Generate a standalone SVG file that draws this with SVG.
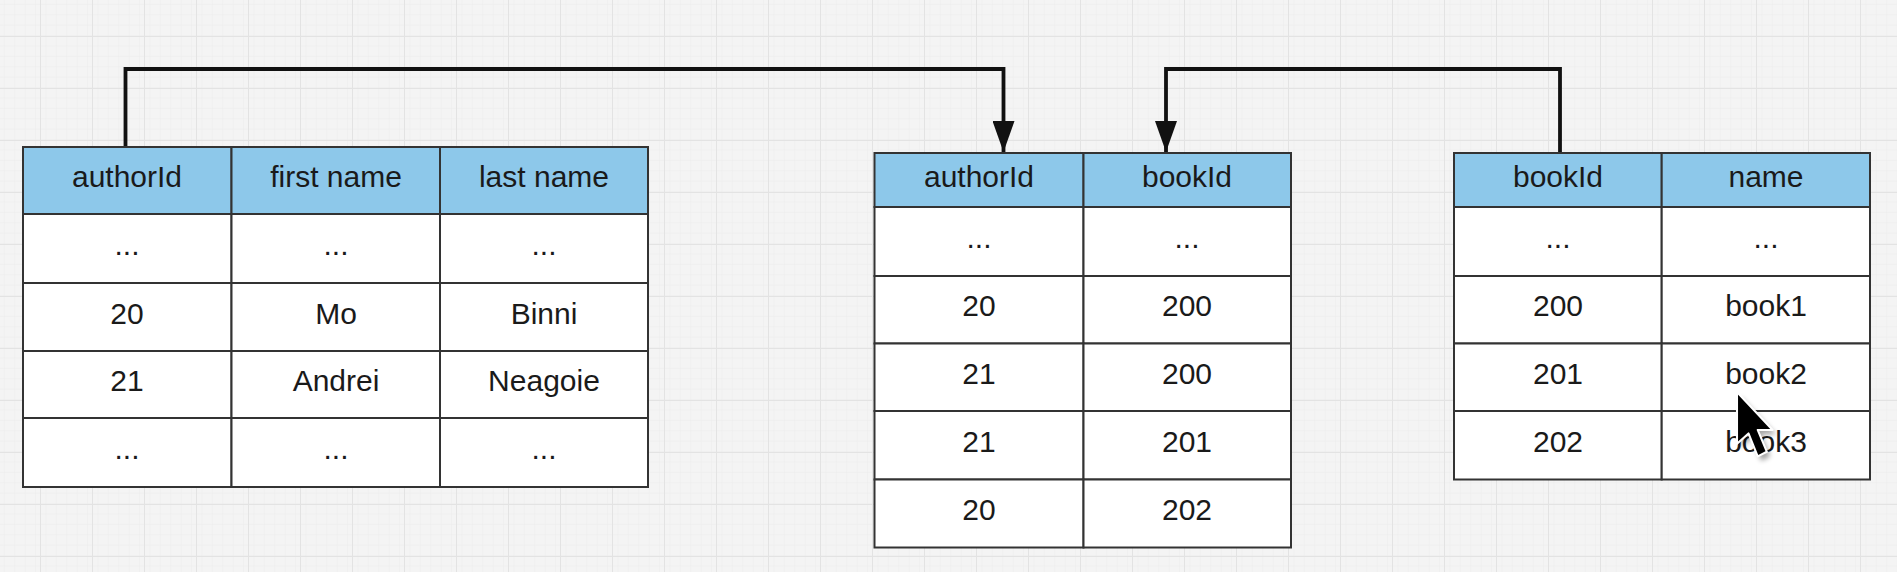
<svg xmlns="http://www.w3.org/2000/svg" width="1897" height="572" viewBox="0 0 1897 572">
<style>
.hdr{fill:#8dc8ea;stroke:#333;stroke-width:2}
.cell{fill:#fff;stroke:#333;stroke-width:2}
.t{font-family:"Liberation Sans",Arial,sans-serif;font-size:30px;fill:#1a1a1a;text-anchor:middle}
.conn{fill:none;stroke:#111;stroke-width:3.8}
</style>
<defs>
<pattern id="minor" x="36" y="36" width="10.4" height="10.4" patternUnits="userSpaceOnUse">
<path d="M10.4 0V10.4H0" fill="none" stroke="#ececec" stroke-width="1"/>
</pattern>
<pattern id="major" x="40" y="36" width="52" height="52" patternUnits="userSpaceOnUse">
<path d="M0 0V52M0 0H52" fill="none" stroke="#e3e3e3" stroke-width="2"/>
</pattern>
<marker id="arr" markerUnits="userSpaceOnUse" markerWidth="31" markerHeight="22" refX="31" refY="11" orient="auto">
<path d="M0,0 L31,11 L0,22 Z" fill="#111"/>
</marker>
<filter id="sh" x="-50%" y="-50%" width="200%" height="200%">
<feGaussianBlur stdDeviation="2.5"/>
</filter>
</defs>
<rect width="1897" height="572" fill="#f4f4f4"/>
<rect width="1897" height="572" fill="url(#minor)"/>
<rect width="1897" height="572" fill="url(#major)"/>

<g id="connectors">
<path class="conn" d="M125.5 147V69H1003.5V152" marker-end="url(#arr)"/>
<path class="conn" d="M1560 153V69H1166V152" marker-end="url(#arr)"/>
</g>

<g id="authors">
<rect class="hdr" x="23" y="147" width="208.5" height="67"/>
<rect class="hdr" x="231.5" y="147" width="208.5" height="67"/>
<rect class="hdr" x="440" y="147" width="208" height="67"/>
<rect class="cell" x="23" y="214" width="208.5" height="69"/>
<rect class="cell" x="231.5" y="214" width="208.5" height="69"/>
<rect class="cell" x="440" y="214" width="208" height="69"/>
<rect class="cell" x="23" y="283" width="208.5" height="68"/>
<rect class="cell" x="231.5" y="283" width="208.5" height="68"/>
<rect class="cell" x="440" y="283" width="208" height="68"/>
<rect class="cell" x="23" y="351" width="208.5" height="67"/>
<rect class="cell" x="231.5" y="351" width="208.5" height="67"/>
<rect class="cell" x="440" y="351" width="208" height="67"/>
<rect class="cell" x="23" y="418" width="208.5" height="69"/>
<rect class="cell" x="231.5" y="418" width="208.5" height="69"/>
<rect class="cell" x="440" y="418" width="208" height="69"/>
<text class="t" x="127" y="187">authorId</text>
<text class="t" x="336" y="187">first name</text>
<text class="t" x="544" y="187">last name</text>
<text class="t" x="127" y="255">...</text>
<text class="t" x="336" y="255">...</text>
<text class="t" x="544" y="255">...</text>
<text class="t" x="127" y="323.5">20</text>
<text class="t" x="336" y="323.5">Mo</text>
<text class="t" x="544" y="323.5">Binni</text>
<text class="t" x="127" y="391">21</text>
<text class="t" x="336" y="391">Andrei</text>
<text class="t" x="544" y="391">Neagoie</text>
<text class="t" x="127" y="459">...</text>
<text class="t" x="336" y="459">...</text>
<text class="t" x="544" y="459">...</text>
</g>

<g id="authorBooks">
<rect class="hdr" x="874.5" y="153" width="209" height="54"/>
<rect class="hdr" x="1083.5" y="153" width="207.5" height="54"/>
<rect class="cell" x="874.5" y="207" width="209" height="69"/>
<rect class="cell" x="1083.5" y="207" width="207.5" height="69"/>
<rect class="cell" x="874.5" y="276" width="209" height="67.5"/>
<rect class="cell" x="1083.5" y="276" width="207.5" height="67.5"/>
<rect class="cell" x="874.5" y="343.5" width="209" height="67.5"/>
<rect class="cell" x="1083.5" y="343.5" width="207.5" height="67.5"/>
<rect class="cell" x="874.5" y="411" width="209" height="68.5"/>
<rect class="cell" x="1083.5" y="411" width="207.5" height="68.5"/>
<rect class="cell" x="874.5" y="479.5" width="209" height="68"/>
<rect class="cell" x="1083.5" y="479.5" width="207.5" height="68"/>
<text class="t" x="979" y="186.5">authorId</text>
<text class="t" x="1187" y="186.5">bookId</text>
<text class="t" x="979" y="248">...</text>
<text class="t" x="1187" y="248">...</text>
<text class="t" x="979" y="316">20</text>
<text class="t" x="1187" y="316">200</text>
<text class="t" x="979" y="383.5">21</text>
<text class="t" x="1187" y="383.5">200</text>
<text class="t" x="979" y="451.5">21</text>
<text class="t" x="1187" y="451.5">201</text>
<text class="t" x="979" y="520">20</text>
<text class="t" x="1187" y="520">202</text>
</g>

<g id="books">
<rect class="hdr" x="1454" y="153" width="207.7" height="54"/>
<rect class="hdr" x="1661.7" y="153" width="208.3" height="54"/>
<rect class="cell" x="1454" y="207" width="207.7" height="69"/>
<rect class="cell" x="1661.7" y="207" width="208.3" height="69"/>
<rect class="cell" x="1454" y="276" width="207.7" height="67.5"/>
<rect class="cell" x="1661.7" y="276" width="208.3" height="67.5"/>
<rect class="cell" x="1454" y="343.5" width="207.7" height="67.5"/>
<rect class="cell" x="1661.7" y="343.5" width="208.3" height="67.5"/>
<rect class="cell" x="1454" y="411" width="207.7" height="68.5"/>
<rect class="cell" x="1661.7" y="411" width="208.3" height="68.5"/>
<text class="t" x="1558" y="186.5">bookId</text>
<text class="t" x="1766" y="186.5">name</text>
<text class="t" x="1558" y="248">...</text>
<text class="t" x="1766" y="248">...</text>
<text class="t" x="1558" y="316">200</text>
<text class="t" x="1766" y="316">book1</text>
<text class="t" x="1558" y="383.5">201</text>
<text class="t" x="1766" y="383.5">book2</text>
<text class="t" x="1558" y="451.5">202</text>
<text class="t" x="1766" y="451.5">book3</text>
</g>

<g id="cursor" transform="translate(1737 392) scale(1.15)">
<path d="M0 0V45L10 36L18 56L26 52L18 33H31Z" fill="#000" opacity="0.35" filter="url(#sh)" transform="translate(3 4)"/>
<path d="M0 0V45L10 36L18 56L26 52L18 33H31Z" fill="#000" stroke="#fff" stroke-width="1.8" stroke-linejoin="round"/>
</g>
</svg>
